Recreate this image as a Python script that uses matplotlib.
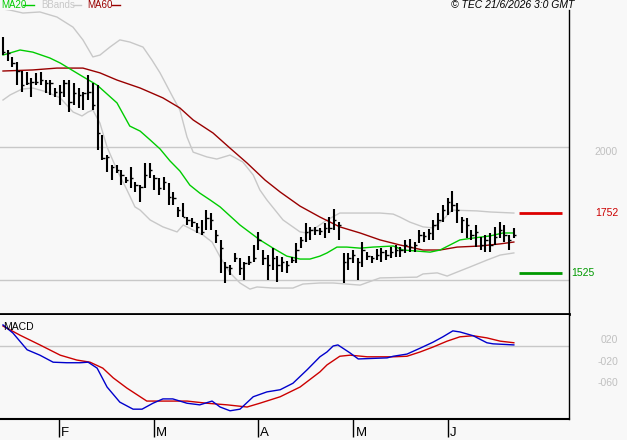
import numpy as np
import matplotlib
matplotlib.use('Agg')
import matplotlib.pyplot as plt
from matplotlib import transforms

plt.rcParams['font.family'] = ['Liberation Sans', 'DejaVu Sans']

## data (daily bars, index 0 = first bar)
high = [2414, 2365, 2339, 2320, 2286, 2282, 2260, 2279, 2282, 2252,
        2252, 2222, 2233, 2252, 2252, 2241, 2222, 2207, 2271, 2241,
        2233, 2045, 1970, 1933, 1933, 1914, 1887, 1925, 1869, 1857,
        1940, 1940, 1895, 1884, 1887, 1865, 1831, 1775, 1790, 1737,
        1733, 1715, 1726, 1763, 1752, 1688, 1651, 1568, 1557, 1602,
        1583, 1568, 1590, 1632, 1681, 1613, 1594, 1620, 1590, 1587,
        1571, 1587, 1639, 1662, 1715, 1700, 1700, 1696, 1715, 1737,
        1767, 1718, 1602, 1602, 1613, 1583, 1643, 1605, 1590, 1617,
        1620, 1613, 1624, 1632, 1624, 1651, 1654, 1643, 1688, 1681,
        1692, 1726, 1752, 1782, 1808, 1835, 1790, 1737, 1733, 1688,
        1707, 1662, 1669, 1677, 1700, 1718, 1707, 1669, 1696]
low = [2346, 2324, 2301, 2233, 2207, 2233, 2188, 2233, 2233, 2203,
       2196, 2188, 2158, 2188, 2132, 2158, 2147, 2139, 2177, 2139,
       1989, 1951, 1906, 1876, 1903, 1857, 1865, 1846, 1831, 1793,
       1846, 1884, 1839, 1820, 1839, 1782, 1782, 1737, 1737, 1707,
       1700, 1677, 1669, 1688, 1688, 1639, 1527, 1489, 1519, 1568,
       1519, 1500, 1557, 1568, 1613, 1557, 1500, 1538, 1493, 1530,
       1527, 1564, 1564, 1620, 1643, 1651, 1669, 1669, 1658, 1677,
       1688, 1651, 1489, 1538, 1564, 1500, 1549, 1575, 1564, 1575,
       1568, 1575, 1583, 1587, 1587, 1602, 1605, 1605, 1639, 1643,
       1651, 1651, 1688, 1718, 1745, 1756, 1715, 1677, 1658, 1651,
       1624, 1613, 1605, 1605, 1632, 1658, 1643, 1613, 1658]
close = [2357, 2353, 2316, 2286, 2233, 2241, 2245, 2245, 2252, 2241,
         2241, 2207, 2207, 2241, 2169, 2203, 2196, 2203, 2207, 2158,
         2053, 1959, 1963, 1925, 1914, 1895, 1876, 1884, 1857, 1850,
         1895, 1914, 1884, 1846, 1869, 1812, 1808, 1763, 1737, 1726,
         1718, 1700, 1681, 1733, 1726, 1669, 1620, 1549, 1545, 1583,
         1545, 1564, 1568, 1583, 1651, 1583, 1557, 1583, 1557, 1568,
         1557, 1575, 1613, 1651, 1681, 1688, 1688, 1684, 1696, 1696,
         1726, 1707, 1568, 1583, 1594, 1568, 1613, 1590, 1583, 1594,
         1605, 1594, 1605, 1613, 1613, 1632, 1624, 1632, 1669, 1666,
         1677, 1707, 1726, 1763, 1793, 1782, 1763, 1726, 1707, 1669,
         1681, 1632, 1651, 1632, 1662, 1688, 1669, 1651, 1669]

ma20_x = [0, 3.6, 6.3, 9.9, 12.1, 16.3, 19.9, 24.1, 26.8, 29, 31.1, 33.2, 35.3, 37.4,
          39.5, 41.6, 43.8, 45.9, 50.1, 54.3, 57.1, 60, 62.8, 64.9, 67, 68.5, 70.6,
          72.7, 75.5, 78.2, 82.5, 84.6, 87.5, 90.3, 92.4, 94.5, 96.6, 99.4, 103, 105.7, 108]
ma20 = [2346, 2365, 2357, 2335, 2316, 2271, 2233, 2166, 2079, 2060, 2027, 1993, 1948, 1910,
        1857, 1827, 1801, 1775, 1707, 1651, 1620, 1590, 1579, 1579, 1590, 1602, 1624,
        1624, 1620, 1624, 1628, 1613, 1609, 1605, 1613, 1632, 1651, 1658, 1666, 1677, 1677]

ma60_x = [0, 6.3, 11.4, 16.9, 20.5, 24.1, 29, 33.8, 37.4, 40.2, 44.4, 48, 51.6, 55.4,
          58.6, 62.8, 67, 71.2, 75.5, 79.7, 83.9, 88.8, 92.4, 96, 100.8, 105.1, 108]
ma60 = [2286, 2290, 2297, 2297, 2279, 2252, 2222, 2185, 2147, 2102, 2053, 1996, 1940, 1876,
        1831, 1778, 1737, 1700, 1677, 1651, 1632, 1613, 1613, 1624, 1628, 1636, 1643]

bb_up_x = [0, 1.5, 4.2, 7.8, 11.4, 14.8, 16.9, 19, 20.5, 22.6, 24.7, 26.8, 29.6, 31.5,
           33.2, 35.9, 37.4, 38.9, 40.2, 43.1, 45.2, 48, 50.7, 52.9, 54.3, 55.8, 59.2,
           62.8, 64.3, 66.4, 68.5, 71.2, 75.5, 79.7, 82.5, 83.9, 86, 88.8, 90.9, 93,
           94.9, 100.2, 103, 108]
bb_up = [2519, 2515, 2504, 2508, 2489, 2451, 2403, 2339, 2346, 2376, 2403, 2395, 2376, 2327,
         2279, 2188, 2139, 2038, 1981, 1963, 1955, 1970, 1944, 1895, 1839, 1801, 1726,
         1681, 1677, 1700, 1726, 1752, 1752, 1752, 1748, 1737, 1718, 1700, 1696, 1726,
         1763, 1760, 1756, 1752]

bb_lo_x = [0, 1.5, 4, 6.3, 9.3, 12.1, 14.8, 16.7, 18, 19, 20.5, 22, 24.1, 26.2, 27.9, 29,
           31.1, 33.8, 36.8, 38.1, 40.2, 42.3, 44.2, 45.9, 48, 50.1, 52.2, 53.7, 57.1,
           61.3, 63.4, 67, 69.8, 75.5, 79.7, 87.5, 88.8, 91.8, 93.9, 96, 98.7, 102.3,
           105.1, 108]
bb_lo = [2177, 2196, 2218, 2222, 2207, 2185, 2132, 2117, 2132, 2139, 2090, 2000, 1914, 1839,
         1775, 1763, 1726, 1700, 1681, 1707, 1688, 1669, 1643, 1587, 1527, 1489, 1466, 1474,
         1470, 1470, 1485, 1489, 1489, 1481, 1508, 1511, 1523, 1527, 1515, 1530, 1549,
         1575, 1594, 1602]

macd_x = [0, 2.1, 5.1, 7.8, 10.6, 13.5, 16.3, 18, 19.9, 22, 24.7, 27.5, 29.4, 31.7, 33.8,
          35.9, 38.9, 41.6, 44.2, 45.9, 48, 50.1, 52.9, 55.8, 58.6, 61.3, 64.3, 67, 68.5,
          69.8, 70.8, 73.4, 75.1, 81.2, 82.5, 85.4, 88.2, 90.9, 93, 95.1, 96.6, 99.4,
          102.3, 103.6, 108]
macd = [0.39, 0.24, -0.07, -0.17, -0.30, -0.31, -0.31, -0.30, -0.41, -0.76, -1.04, -1.17,
        -1.17, -1.06, -0.98, -0.98, -1.06, -1.09, -1.02, -1.13, -1.20, -1.17, -0.94, -0.85,
        -0.81, -0.69, -0.44, -0.20, -0.11, 0.0, 0.02, -0.13, -0.24, -0.22, -0.19, -0.15,
        -0.04, 0.07, 0.17, 0.28, 0.26, 0.19, 0.06, 0.04, 0.02]

sig_x = [0, 3.6, 7.8, 12.1, 15.6, 18.4, 21.1, 23.3, 26.2, 29, 30.4, 33.2, 38.9, 43.1, 47.4,
         51.6, 54.3, 58.6, 62.8, 67, 68.5, 71.2, 73.4, 77, 82.5, 85.4, 88.2, 90.9, 93.9,
         96.6, 99.4, 102.3, 105.1, 108]
signal = [0.37, 0.20, 0.02, -0.17, -0.26, -0.30, -0.41, -0.59, -0.78, -0.94, -1.02, -1.02,
          -1.02, -1.06, -1.09, -1.13, -1.06, -0.94, -0.76, -0.48, -0.35, -0.19, -0.17, -0.20,
          -0.20, -0.19, -0.11, -0.02, 0.09, 0.17, 0.19, 0.15, 0.09, 0.06]

resistance = 1752
support = 1525
month_labels = ['F', 'M', 'A', 'M', 'J']
month_pos = [11.8, 32, 54, 74.1, 94.1]

bg = '#f8f8f8'
W, H = 627, 440

fig = plt.figure(figsize=(W / 100, H / 100), dpi=100, facecolor=bg)
ax = fig.add_axes([0, 1 - 314 / H, 569 / W, 304 / H], facecolor=bg)
ax2 = fig.add_axes([0, 1 - 419 / H, 569 / W, 104 / H], facecolor=bg)

xlim = (-0.634, 119.66)

## main panel
x = np.arange(len(close))
ax.axhline(2000, color='#c8c8c8', lw=1)
ax.axhline(1500, color='#c8c8c8', lw=1)
ax.plot(bb_up_x, bb_up, color='#c8c8c8', lw=1)
ax.plot(bb_lo_x, bb_lo, color='#c8c8c8', lw=1)
ax.plot(ma60_x, ma60, color='#990000', lw=1)
ax.plot(ma20_x, ma20, color='#00cc00', lw=1)
ax.vlines(x, low, high, color='black', lw=1.5)
ax.hlines(close, x, x + 0.5, color='black', lw=1)
ax.hlines(resistance, 109, 118.2, color='#dd0000', lw=2)
ax.hlines(support, 109, 118.2, color='#009900', lw=2)

ax.set_xlim(*xlim)
ax.set_ylim(1372.4, 2515.4)
ax.set_xticks([])
ax.set_yticks([])
for s in ['top', 'left']:
    ax.spines[s].set_visible(False)
ax.spines['bottom'].set_linewidth(2)
ax.spines['right'].set_linewidth(1)

tr = transforms.blended_transform_factory(ax.transAxes, ax.transData)
ax.text(618 / 569, 2000, '2000', transform=tr, ha='right', va='top', fontsize=7.5, color='#c0c0c0')
ax.text(618 / 569, resistance, '1752', transform=tr, ha='right', va='center', fontsize=7.5, color='#cc0000')
ax.text(571 / 569, support, '1525', transform=tr, ha='left', va='center', fontsize=7.5, color='#009900')

## MACD panel
ax2.axhline(0, color='#c8c8c8', lw=1)
ax2.plot(sig_x, signal, color='#cc0000', lw=1)
ax2.plot(macd_x, macd, color='#0000cc', lw=1)
ax2.set_xlim(*xlim)
ax2.set_ylim(-1.352, 0.574)
ax2.set_yticks([])
ax2.set_xticks(month_pos)
ax2.set_xticklabels([])
ax2.tick_params(axis='x', direction='out', length=13, width=1, color='black')
for s in ['top', 'left']:
    ax2.spines[s].set_visible(False)
ax2.spines['bottom'].set_linewidth(1.5)
ax2.spines['right'].set_linewidth(1)
ax2.text(3 / 569, 0.88, 'MACD', transform=ax2.transAxes, fontsize=7.5, va='center', ha='left')

tr2 = transforms.blended_transform_factory(ax2.transAxes, ax2.transData)
for v, lab in zip([0.2, -0.2, -0.6], ['020', '-020', '-060']):
    ax2.text(618 / 569, v, lab, transform=tr2, ha='right', va='top', fontsize=7.5, color='#c0c0c0')

trm = transforms.offset_copy(transforms.blended_transform_factory(ax2.transData, ax2.transAxes),
                             fig=fig, x=2, y=0, units='dots')
for p, lab in zip(month_pos, month_labels):
    ax2.text(p, -0.135, lab, transform=trm, ha='left', va='center', fontsize=9.5, clip_on=False)

## legend + stamp
ly = 1 - 5 / H
fig.text(1 / W, ly, 'MA20', color='#00cc00', fontsize=7, va='center')
fig.add_artist(plt.Line2D([23 / W, 34 / W], [ly] * 2, color='#00cc00', lw=1))
fig.text(41 / W, ly, 'BBands', color='#c8c8c8', fontsize=7, va='center')
fig.add_artist(plt.Line2D([73 / W, 81 / W], [ly] * 2, color='#c8c8c8', lw=1))
fig.text(87 / W, ly, 'MA60', color='#990000', fontsize=7, va='center')
fig.add_artist(plt.Line2D([112 / W, 120 / W], [ly] * 2, color='#990000', lw=1))
fig.text(574 / W, ly, '\u00a9 TEC 21/6/2026 3:0 GMT', fontsize=7.5, style='italic',
         ha='right', va='center')

fig.savefig('out.png', dpi=100, facecolor=bg)
